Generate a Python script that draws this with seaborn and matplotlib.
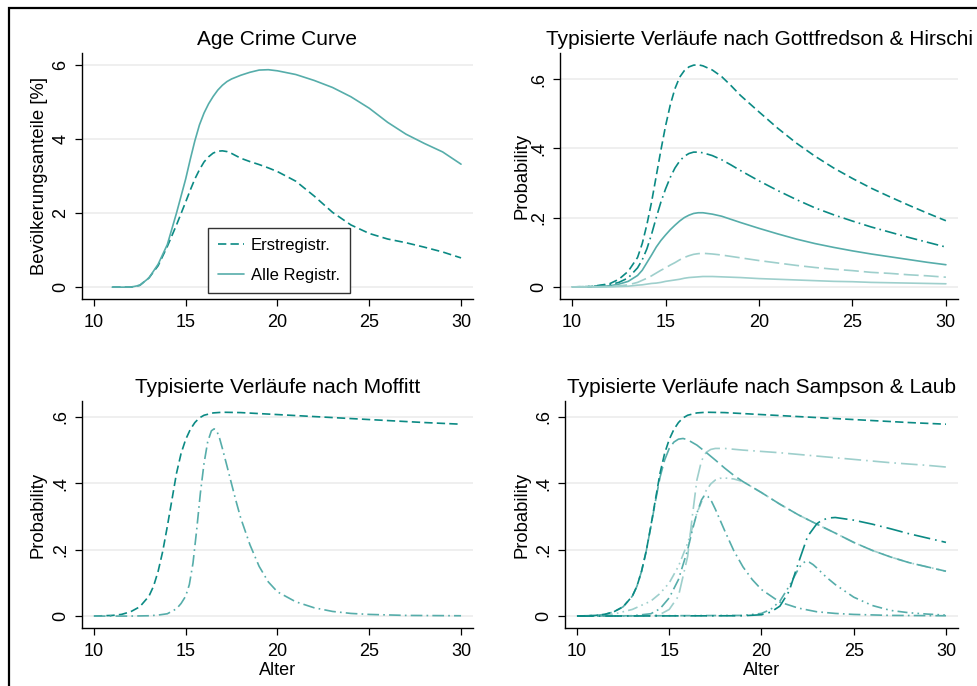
import numpy as np
import pandas as pd
import matplotlib
matplotlib.use("Agg")
import matplotlib.pyplot as plt
import seaborn as sns
from matplotlib.patches import Rectangle

# colours (Stata-like teal shades)
dark = "#0b8a84"
medium = "#56adaa"
light = "#9ecfcc"

# --- Age Crime Curve ---
acc_x = [11, 11.5, 12, 12.5, 13, 13.5, 14, 14.5, 15, 15.25, 15.5, 15.75, 16, 16.25, 16.5, 16.75,
         17, 17.25, 17.5, 18, 18.5, 19, 19.5, 20, 21, 22, 23, 24, 25, 26, 27, 28, 29, 30]
acc_erst = [0, 0, 0, 0.05, 0.25, 0.58, 1.1, 1.68, 2.3, 2.62, 2.92, 3.17, 3.38, 3.52, 3.62, 3.67,
            3.68, 3.66, 3.61, 3.48, 3.39, 3.31, 3.22, 3.12, 2.86, 2.46, 2.02, 1.68, 1.45, 1.3,
            1.2, 1.08, 0.95, 0.79]
acc_alle = [0, 0, 0, 0.05, 0.25, 0.62, 1.15, 2.0, 2.92, 3.45, 3.95, 4.38, 4.7, 4.95, 5.15, 5.32,
            5.45, 5.55, 5.62, 5.72, 5.8, 5.86, 5.87, 5.84, 5.74, 5.58, 5.39, 5.14, 4.83, 4.45,
            4.13, 3.88, 3.65, 3.32]

# --- Gottfredson & Hirschi ---
gh_x = [10, 11, 12, 12.5, 13, 13.5, 13.75, 14, 14.25, 14.5, 14.75, 15, 15.25, 15.5, 15.75,
        16, 16.25, 16.5, 16.75, 17, 17.5, 18, 18.5, 19, 20, 21, 22, 23, 24, 25, 26, 27, 28, 29, 30]
gh_1 = [0, 0.001, 0.009, 0.022, 0.045, 0.085, 0.125, 0.18, 0.245, 0.32, 0.395, 0.465, 0.525, 0.572,
        0.605, 0.624, 0.635, 0.64, 0.641, 0.638, 0.626, 0.607, 0.581, 0.553, 0.505, 0.458, 0.415,
        0.377, 0.343, 0.313, 0.285, 0.26, 0.236, 0.213, 0.191]
gh_2 = [0, 0.001, 0.006, 0.013, 0.026, 0.055, 0.078, 0.11, 0.152, 0.2, 0.245, 0.283, 0.316, 0.343,
        0.363, 0.377, 0.385, 0.389, 0.389, 0.387, 0.379, 0.367, 0.352, 0.336, 0.306, 0.278, 0.252,
        0.228, 0.208, 0.19, 0.173, 0.158, 0.143, 0.129, 0.115]
gh_3 = [0, 0, 0.003, 0.008, 0.016, 0.033, 0.048, 0.07, 0.092, 0.115, 0.134, 0.15, 0.165, 0.178,
        0.19, 0.2, 0.207, 0.212, 0.214, 0.214, 0.21, 0.204, 0.195, 0.186, 0.169, 0.153, 0.138,
        0.125, 0.114, 0.104, 0.095, 0.087, 0.079, 0.071, 0.064]
gh_4 = [0, 0, 0.001, 0.003, 0.006, 0.013, 0.019, 0.025, 0.032, 0.04, 0.048, 0.055, 0.063, 0.07,
        0.078, 0.085, 0.09, 0.094, 0.096, 0.097, 0.095, 0.092, 0.088, 0.084, 0.076, 0.069, 0.062,
        0.056, 0.051, 0.047, 0.042, 0.039, 0.035, 0.032, 0.028]
gh_5 = [0, 0, 0, 0.001, 0.002, 0.005, 0.006, 0.008, 0.01, 0.011, 0.013, 0.016, 0.018, 0.02,
        0.022, 0.025, 0.027, 0.028, 0.029, 0.03, 0.03, 0.029, 0.028, 0.027, 0.024, 0.022, 0.02,
        0.018, 0.016, 0.015, 0.013, 0.012, 0.011, 0.01, 0.009]

# --- Moffitt ---
lcp_x = [10, 11, 11.5, 12, 12.5, 13, 13.25, 13.5, 13.75, 14, 14.25, 14.5, 14.75, 15, 15.25,
         15.5, 15.75, 16, 16.5, 17, 18, 19, 20, 22, 24, 26, 28, 30]
lcp_y = [0, 0.002, 0.005, 0.013, 0.028, 0.06, 0.09, 0.135, 0.195, 0.27, 0.35, 0.43, 0.49, 0.532,
         0.562, 0.583, 0.597, 0.605, 0.612, 0.614, 0.613, 0.61, 0.607, 0.601, 0.595, 0.589, 0.583,
         0.578]
al_x = [10, 12, 13, 13.5, 14, 14.5, 14.75, 15, 15.2, 15.4, 15.6, 15.8, 16, 16.2, 16.4, 16.55,
        16.7, 16.85, 17, 17.25, 17.5, 17.75, 18, 18.5, 19, 19.5, 20, 21, 22, 23, 24, 25, 27, 30]
al_y = [0, 0, 0.001, 0.003, 0.007, 0.022, 0.038, 0.06, 0.095, 0.16, 0.26, 0.37, 0.46, 0.525,
        0.558, 0.564, 0.557, 0.535, 0.505, 0.452, 0.398, 0.345, 0.295, 0.215, 0.15, 0.103, 0.073,
        0.043, 0.025, 0.014, 0.008, 0.005, 0.002, 0.001]

# --- Sampson & Laub ---
slb_x = [10, 11, 11.5, 12, 12.5, 13, 13.25, 13.5, 13.75, 14, 14.25, 14.5, 14.75, 15, 15.25,
         15.5, 15.75, 16, 16.5, 17, 17.5, 18, 18.5, 19, 20, 21, 22, 23, 24, 25, 26, 27, 28, 29, 30]
slb_y = [0, 0.002, 0.005, 0.013, 0.028, 0.06, 0.09, 0.135, 0.195, 0.268, 0.345, 0.418, 0.47, 0.505,
         0.524, 0.533, 0.535, 0.531, 0.515, 0.493, 0.47, 0.446, 0.424, 0.405, 0.372, 0.337, 0.305,
         0.277, 0.25, 0.222, 0.198, 0.178, 0.161, 0.148, 0.135]
slc_x = [10, 11, 12, 13, 14, 14.5, 15, 15.5, 16, 16.5, 17, 17.25, 17.5, 17.75, 18, 18.5, 19,
         20, 21, 22, 23, 24, 25, 26, 27, 28, 29, 30]
slc_y = [0, 0.001, 0.006, 0.02, 0.045, 0.068, 0.1, 0.15, 0.22, 0.31, 0.378, 0.398, 0.41, 0.415,
         0.416, 0.413, 0.405, 0.372, 0.337, 0.305, 0.277, 0.25, 0.222, 0.198, 0.178, 0.161, 0.148,
         0.135]
sld_x = [10, 13, 14, 14.5, 15, 15.5, 16, 16.25, 16.5, 16.75, 16.9, 17.1, 17.3, 17.5, 17.75,
         18, 18.5, 19, 19.5, 20, 21, 22, 23, 24, 25, 27, 30]
sld_y = [0, 0.001, 0.007, 0.022, 0.055, 0.11, 0.2, 0.258, 0.31, 0.35, 0.363, 0.36, 0.345, 0.322,
         0.29, 0.258, 0.197, 0.148, 0.11, 0.08, 0.042, 0.024, 0.013, 0.008, 0.005, 0.002, 0.001]
sle_x = [10, 14, 14.5, 15, 15.5, 16, 16.25, 16.5, 16.75, 17, 17.25, 17.5, 18, 19, 20, 21, 22,
         23, 24, 25, 26, 27, 28, 29, 30]
sle_y = [0, 0.001, 0.005, 0.02, 0.06, 0.18, 0.3, 0.41, 0.468, 0.493, 0.502, 0.505, 0.505, 0.5,
         0.496, 0.492, 0.487, 0.482, 0.477, 0.472, 0.467, 0.462, 0.458, 0.454, 0.449]
slf_x = [10, 19, 20, 20.5, 21, 21.5, 22, 22.5, 23, 23.25, 23.5, 23.75, 24, 25, 26, 27, 28, 29, 30]
slf_y = [0, 0.001, 0.004, 0.012, 0.03, 0.075, 0.16, 0.24, 0.278, 0.288, 0.293, 0.296, 0.297, 0.289,
         0.277, 0.263, 0.248, 0.235, 0.222]
slg_x = [10, 19, 20, 20.5, 21, 21.5, 22, 22.2, 22.4, 22.6, 22.8, 23, 23.5, 24, 25, 26, 27, 28,
         29, 30]
slg_y = [0, 0.002, 0.008, 0.02, 0.045, 0.09, 0.142, 0.158, 0.165, 0.162, 0.155, 0.145, 0.118,
         0.095, 0.057, 0.032, 0.017, 0.01, 0.006, 0.003]

# dash patterns
solid = ""
dash = (5, 2.5)
longdash = (9, 3)
dashdot = (7, 2.5, 1, 2.5)
longdashdot = (10, 3, 1, 3)
dashdotdot = (6, 2.5, 1, 2.5, 1, 2.5)

sns.set_theme(style="white")
plt.rcParams["font.family"] = ["Liberation Sans", "DejaVu Sans"]
plt.rcParams["text.color"] = "black"
plt.rcParams["axes.labelcolor"] = "black"
plt.rcParams["xtick.color"] = "black"
plt.rcParams["ytick.color"] = "black"


def draw(ax, series):
    # series: list of (name, x, y, colour, dashes)
    frames = [pd.DataFrame({"Alter": x, "wert": y, "serie": n}) for n, x, y, c, d in series]
    df = pd.concat(frames, ignore_index=True)
    names = [s[0] for s in series]
    sns.lineplot(data=df, x="Alter", y="wert", hue="serie", style="serie",
                 hue_order=names, style_order=names,
                 palette={s[0]: s[3] for s in series},
                 dashes={s[0]: s[4] for s in series},
                 linewidth=1.2, legend=False, errorbar=None, ax=ax)


def style(ax, title, ylabel, yticks, yticklabels, ylim, xlabel=None, labelx=-0.09):
    ax.set_xlim(9.35, 30.65)
    ax.set_ylim(*ylim)
    ax.set_xticks([10, 15, 20, 25, 30])
    ax.set_yticks(yticks)
    ax.set_yticklabels(yticklabels)
    for sp in ["top", "right"]:
        ax.spines[sp].set_visible(False)
    for sp in ["left", "bottom"]:
        ax.spines[sp].set_color("black")
        ax.spines[sp].set_linewidth(1.0)
    ax.grid(axis="y", color="#ececec", linewidth=1.2)
    ax.set_axisbelow(True)
    ax.tick_params(axis="both", which="major", direction="out", length=5, width=0.9,
                   color="black", labelsize=13, bottom=True, left=True)
    ax.tick_params(axis="x", pad=5.5)
    ax.tick_params(axis="y", pad=4)
    plt.setp(ax.get_yticklabels(), rotation=90, va="center")
    ax.set_title(title, fontsize=15, pad=6)
    ax.set_ylabel(ylabel, fontsize=13.3)
    ax.yaxis.set_label_coords(labelx, 0.5)
    ax.set_xlabel(xlabel if xlabel else "", fontsize=13, labelpad=1.5)


fig = plt.figure(figsize=(9.78, 6.86), dpi=100)
ax1 = fig.add_axes([0.0838, 0.5641, 0.3998, 0.3586])
ax2 = fig.add_axes([0.5726, 0.5641, 0.4070, 0.3586])
ax3 = fig.add_axes([0.0838, 0.0845, 0.3998, 0.3310])
ax4 = fig.add_axes([0.5777, 0.0845, 0.4018, 0.3310])

prob_ticks = [0, 0.2, 0.4, 0.6]
prob_labels = ["0", ".2", ".4", ".6"]

draw(ax1, [("Erstregistr.", acc_x, acc_erst, dark, dash),
           ("Alle Registr.", acc_x, acc_alle, medium, solid)])
style(ax1, "Age Crime Curve", "Bevölkerungsanteile [%]", [0, 2, 4, 6], ["0", "2", "4", "6"],
      (-0.32, 6.32), labelx=-0.087)
leg = ax1.legend(ax1.get_lines()[:2], ["Erstregistr.", "Alle Registr."],
                 loc="lower left", bbox_to_anchor=(0.3215, 0.0256), borderaxespad=0,
                 fontsize=12, frameon=True, fancybox=False, edgecolor="#333333", framealpha=1,
                 handlelength=1.6, handletextpad=0.4, labelspacing=0.9, borderpad=0.6)
leg.get_frame().set_linewidth(1.0)

draw(ax2, [("g1", gh_x, gh_1, dark, dash),
           ("g2", gh_x, gh_2, dark, dashdot),
           ("g3", gh_x, gh_3, medium, solid),
           ("g4", gh_x, gh_4, light, longdash),
           ("g5", gh_x, gh_5, light, solid)])
style(ax2, "Typisierte Verläufe nach Gottfredson & Hirschi", "Probability", prob_ticks,
      prob_labels, (-0.035, 0.675), labelx=-0.073)

draw(ax3, [("lcp", lcp_x, lcp_y, dark, dash),
           ("al", al_x, al_y, medium, dashdot)])
style(ax3, "Typisierte Verläufe nach Moffitt", "Probability", prob_ticks, prob_labels,
      (-0.036, 0.648), xlabel="Alter", labelx=-0.0895)

draw(ax4, [("c", slc_x, slc_y, light, dashdotdot),
           ("e", sle_x, sle_y, light, longdashdot),
           ("b", slb_x, slb_y, medium, longdash),
           ("d", sld_x, sld_y, medium, dashdot),
           ("g", slg_x, slg_y, medium, dashdotdot),
           ("f", slf_x, slf_y, dark, longdashdot),
           ("a", lcp_x, lcp_y, dark, dash)])
style(ax4, "Typisierte Verläufe nach Sampson & Laub", "Probability", prob_ticks, prob_labels,
      (-0.036, 0.648), xlabel="Alter", labelx=-0.0865)

# outer frame (extends past the right and bottom edges)
fig.add_artist(Rectangle((9 / 978, -0.05), 1.2, 1 - 8 / 686 + 0.05, transform=fig.transFigure,
                         fill=False, edgecolor="black", linewidth=1.6, clip_on=False))

fig.savefig("out.png", dpi=100)
